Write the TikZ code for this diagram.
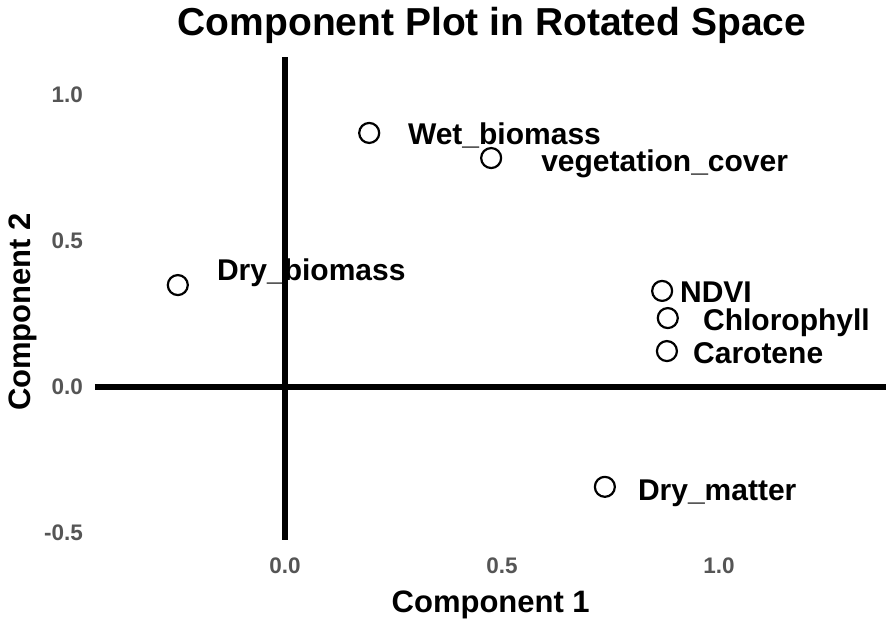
\documentclass[tikz,border=0pt]{standalone}
\usepackage{fontspec}
\setmainfont{Liberation Sans}
\definecolor{tickgray}{HTML}{555555}
\tikzset{
  pt/.style={circle,draw,line width=2.2pt,minimum size=20pt,inner sep=0pt},
  lbl/.style={anchor=west,inner sep=0pt,text height=21.6pt,text depth=0pt,font=\fontsize{30}{30}\selectfont\bfseries},
  tick/.style={text=tickgray,inner sep=0pt,text height=16pt,text depth=0pt,font=\fontsize{22.5}{22.5}\selectfont\bfseries}
}
\begin{document}
\begin{tikzpicture}[x=434pt,y=292pt,line join=round]
\useasboundingbox (-0.6567,-0.8082) rectangle (1.3848,1.3253);
\node[font=\fontsize{39}{39}\selectfont\bfseries,inner sep=0pt,text height=28pt,text depth=0pt] (title) at (0.477,1.25) {Component Plot in Rotated Space};
\draw[line width=6pt] (-0.4378,0)--(1.3848,0) (0,1.130)--(0,-0.524);
\foreach \y in {1.0,0.5,0.0,-0.5}\node[tick,anchor=east] at (-0.465,\y) {\y};
\foreach \x in {0.0,0.5,1.0}\node[tick] at (\x,-0.610) {\x};
\node[lbl,anchor=center,text height=22.3pt,font=\fontsize{31}{31}\selectfont\bfseries] (xlab) at (0.474,-0.733) {Component 1};
\node[lbl,anchor=center,rotate=90,text height=22.3pt,font=\fontsize{31}{31}\selectfont\bfseries] (ylab) at (-0.611,0.257) {Component 2};
% loadings
\node[pt] (wet) at (0.194,0.870) {};
\node[pt] (veg) at (0.475,0.784) {};
\node[pt] (drybio) at (-0.247,0.349) {};
\node[pt] (ndvi) at (0.869,0.329) {};
\node[pt] (chl) at (0.882,0.236) {};
\node[pt] (car) at (0.880,0.123) {};
\node[pt] (drymat) at (0.737,-0.342) {};
\node[lbl] (wetlab) at (0.283,0.866) {Wet\_biomass};
\node[lbl] (veglab) at (0.590,0.774) {vegetation\_cover};
\node[lbl] (drybiolab) at (-0.157,0.401) {Dry\_biomass};
\node[lbl] (ndvilab) at (0.910,0.325) {NDVI};
\node[lbl] (chllab) at (0.963,0.229) {Chlorophyll};
\node[lbl] (carlab) at (0.940,0.116) {Carotene};
\node[lbl] (drymatlab) at (0.813,-0.353) {Dry\_matter};
\end{tikzpicture}
\end{document}
